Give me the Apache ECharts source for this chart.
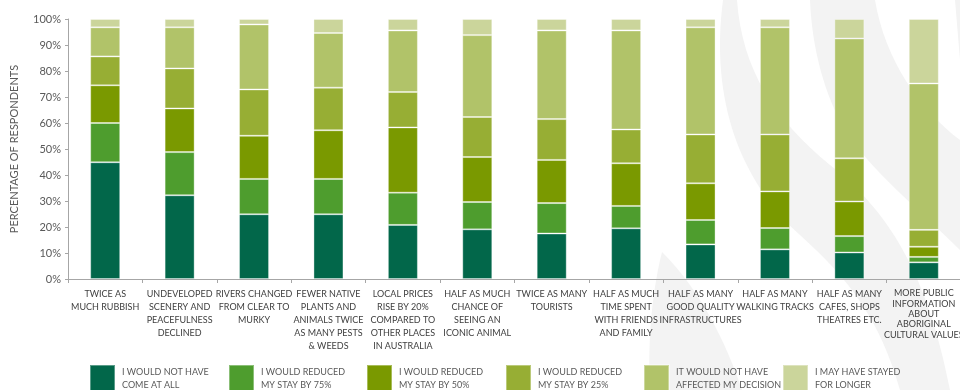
<!DOCTYPE html>
<html>
<head>
<meta charset="utf-8">
<script src="https://cdn.jsdelivr.net/npm/echarts@6/dist/echarts.min.js"></script>
<style>
  html, body { margin: 0; padding: 0; background: #ffffff; }
  #chart { width: 960px; height: 390px; }
</style>
</head>
<body>
<div id="chart"></div>
<script>
// Survey categories (line breaks as printed under each bar)
const categories = [
  'TWICE AS\nMUCH RUBBISH',
  'UNDEVELOPED\nSCENERY AND\nPEACEFULNESS\nDECLINED',
  'RIVERS CHANGED\nFROM CLEAR TO\nMURKY',
  'FEWER NATIVE\nPLANTS AND\nANIMALS TWICE\nAS MANY PESTS\n& WEEDS',
  'LOCAL PRICES\nRISE BY 20%\nCOMPARED TO\nOTHER PLACES\nIN AUSTRALIA',
  'HALF AS MUCH\nCHANCE OF\nSEEING AN\nICONIC ANIMAL',
  'TWICE AS MANY\nTOURISTS',
  'HALF AS MUCH\nTIME SPENT\nWITH FRIENDS\nAND FAMILY',
  'HALF AS MANY\nGOOD QUALITY\nINFRASTRUCTURES',
  'HALF AS MANY\nWALKING TRACKS',
  'HALF AS MANY\nCAFES, SHOPS\nTHEATRES ETC.',
  'MORE PUBLIC\nINFORMATION\nABOUT\nABORIGINAL\nCULTURAL VALUES'
];

// Response groups
const responseNames = [
  'I WOULD NOT HAVE\nCOME AT ALL',
  'I WOULD REDUCED\nMY STAY BY 75%',
  'I WOULD REDUCED\nMY STAY BY 50%',
  'I WOULD REDUCED\nMY STAY BY 25%',
  'IT WOULD NOT HAVE\nAFFECTED MY DECISION',
  'I MAY HAVE STAYED\nFOR LONGER'
];

// Share of respondents (%) per category
const notComeAtAll   = [44.9, 32.2, 24.9, 24.9, 20.8, 19.1, 17.5, 19.5, 13.3, 11.4, 10.2, 6.4];
const reduceBy75     = [15.1, 16.6, 13.6, 13.6, 12.4, 10.5, 11.7, 8.6, 9.4, 8.2, 6.3, 2.1];
const reduceBy50     = [14.5, 16.8, 16.6, 18.7, 25.1, 17.3, 16.6, 16.4, 14.1, 14.1, 13.3, 3.9];
const reduceBy25     = [11.1, 15.4, 17.8, 16.4, 13.6, 15.4, 15.7, 13.0, 18.8, 21.9, 16.6, 6.5];
const notAffected    = [11.2, 15.8, 25.0, 21.0, 23.7, 31.5, 34.1, 38.1, 41.2, 41.2, 46.1, 56.3];
const stayedLonger   = [3.2, 3.2, 2.1, 5.4, 4.4, 6.2, 4.4, 4.4, 3.2, 3.2, 7.5, 24.8];

// Axis ticks
const yTicks = { min: 0, max: 100, step: 10 };

const seriesValues = [notComeAtAll, reduceBy75, reduceBy50, reduceBy25, notAffected, stayedLonger];
const palette = ['#02674a', '#4e9d2e', '#7a9900', '#97ae34', '#b1c369', '#cbd59b'];
const legendLefts = [89, 228, 366, 505, 643, 782];

const FONT = 'Lato, "Open Sans", sans-serif';

// Faint decorative flame tongues in the background, registered as custom shapes
const leafColor = '#f3f3f3';
const leaves = [
  'M723 0 L737 0 C742 70 775 120 830 165 C880 205 925 260 950 390 L900 390 C880 320 850 280 800 235 C740 180 710 100 723 0 Z',
  'M810 0 L875 0 C885 60 920 110 960 140 L960 250 C920 210 870 170 845 130 C825 95 812 50 810 0 Z',
  'M662 252 C650 300 648 350 650 390 L742 390 C725 340 700 290 662 252 Z',
  'M955 0 L960 0 L960 60 Z'
];
leaves.forEach((d, i) => {
  echarts.graphic.registerShape('leaf' + i, echarts.graphic.extendPath(d, {}));
});

const chart = echarts.init(document.getElementById('chart'), null, { renderer: 'canvas' });

const series = seriesValues.map((vals, i) => ({
  name: responseNames[i],
  type: 'bar',
  stack: 'total',
  barWidth: 30,
  data: vals,
  itemStyle: {
    color: palette[i],
    borderColor: 'rgba(255,255,255,0.35)',
    borderWidth: 1
  },
  emphasis: { disabled: true }
}));

const legends = responseNames.map((n, i) => ({
  data: [n],
  left: legendLefts[i],
  top: 364,
  width: 135,
  padding: 0,
  orient: 'horizontal',
  icon: 'rect',
  itemWidth: 25,
  itemHeight: 28,
  itemGap: 0,
  selectedMode: false,
  textStyle: {
    fontFamily: FONT,
    fontSize: 9,
    lineHeight: 13,
    color: '#595959',
    overflow: 'none',
    padding: [0, 0, 0, 2]
  }
}));

const option = {
  backgroundColor: '#ffffff',
  animation: false,
  graphic: {
    elements: leaves.map((d, i) => ({
      type: 'leaf' + i,
      z: -10,
      silent: true,
      style: { fill: leafColor }
    }))
  },
  legend: legends,
  grid: {
    left: 68,
    right: -1,
    top: 19,
    bottom: 111,
    containLabel: false,
    outerBoundsMode: 'none'
  },
  xAxis: {
    type: 'category',
    data: categories,
    boundaryGap: true,
    axisLine: { lineStyle: { color: '#a6a6a6', width: 1 } },
    axisTick: { show: true, alignWithLabel: false, length: 4, lineStyle: { color: '#a6a6a6' } },
    axisLabel: {
      interval: 0,
      margin: 9,
      fontFamily: FONT,
      fontSize: 9,
      lineHeight: 12.8,
      color: '#404040',
      overflow: 'none',
      hideOverlap: false,
      formatter: (v, idx) => idx === categories.length - 1 ? '{tight|' + v + '}' : v,
      rich: {
        tight: { fontFamily: FONT, fontSize: 9, lineHeight: 10.4, color: '#404040' }
      }
    },
    splitLine: { show: false }
  },
  yAxis: {
    type: 'value',
    min: yTicks.min,
    max: yTicks.max,
    interval: yTicks.step,
    name: 'PERCENTAGE OF RESPONDENTS',
    nameLocation: 'middle',
    nameRotate: 90,
    nameGap: 48,
    nameTextStyle: { fontFamily: FONT, fontSize: 11, color: '#595959' },
    axisLine: { show: true, lineStyle: { color: '#a6a6a6', width: 1 } },
    axisTick: { show: true, length: 3, lineStyle: { color: '#a6a6a6' } },
    axisLabel: {
      margin: 7,
      fontFamily: FONT,
      fontSize: 11,
      color: '#595959',
      formatter: '{value}%'
    },
    splitLine: { show: false }
  },
  series: series
};

chart.setOption(option);
</script>
</body>
</html>
